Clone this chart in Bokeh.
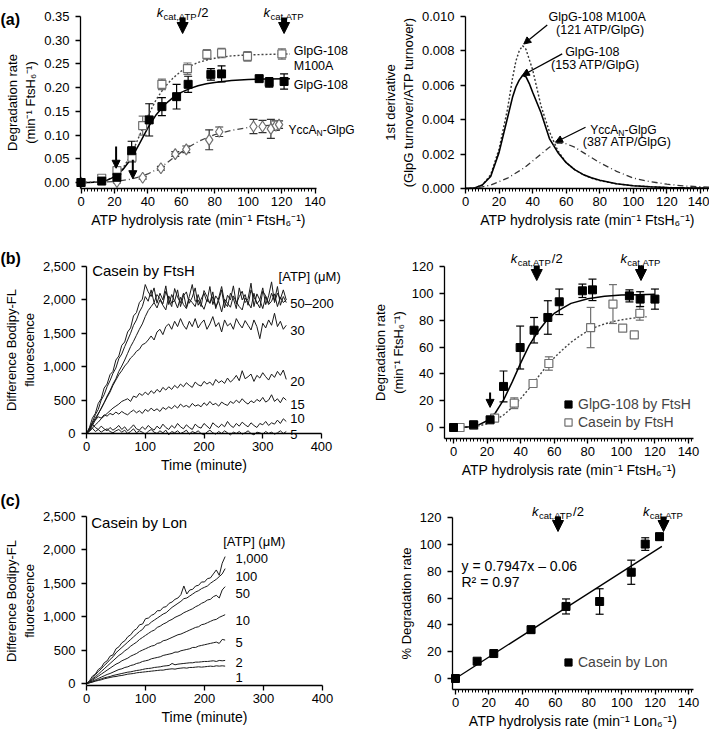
from bokeh.plotting import figure
from bokeh.models import (Range1d, SingleIntervalTicker, NumeralTickFormatter, Label,
                          Arrow, NormalHead, Whisker, TeeHead, ColumnDataSource,
                          Legend, LegendItem)
from bokeh.layouts import row, column
from bokeh.embed import file_html
from bokeh.resources import INLINE

FONT = "Liberation Sans"

# ---------------- data: (a) left, degradation vs ATP hydrolysis ----------------
glpg_x = [0, 12.4, 21.5, 30.3, 40.8, 48.4, 57.2, 64.1, 77.7, 84.1, 106.6, 112.6, 121.5]
glpg_y = [0.000, 0.003, 0.011, 0.067, 0.132, 0.160, 0.181, 0.207, 0.228, 0.229, 0.219, 0.211, 0.213]
glpg_e = [0, 0.003, 0.004, 0.020, 0.034, 0.019, 0.026, 0.017, 0.012, 0.017, 0.006, 0.010, 0.016]
m100a_x = [0, 12.4, 21.5, 30.5, 36.9, 48.4, 63.7, 75.3, 84.1, 99.6, 120.2]
m100a_y = [0.000, 0.009, 0.025, 0.053, 0.120, 0.207, 0.240, 0.270, 0.273, 0.266, 0.271]
m100a_e = [0, 0.006, 0.008, 0.010, 0.020, 0.011, 0.012, 0.010, 0.010, 0.010, 0.011]
ycca_x = [0, 21.5, 36.9, 47.8, 56.4, 63.0, 76.7, 82.7, 103.2, 108.6, 113.6, 116.6, 118.5]
ycca_y = [0.000, 0.001, 0.010, 0.030, 0.060, 0.070, 0.090, 0.107, 0.118, 0.118, 0.113, 0.120, 0.122]
ycca_e = [0, 0.002, 0.003, 0.004, 0.005, 0.007, 0.021, 0.010, 0.015, 0.013, 0.020, 0.010, 0.008]
fit_x = [0, 5, 10, 15, 20, 25, 30, 35, 40, 45, 50, 55, 60, 65, 70, 75, 80, 90, 100, 110, 125]
glpg_fit = [0, 0.0002, 0.0012, 0.004, 0.012, 0.027, 0.050, 0.082, 0.115, 0.143, 0.164, 0.179,
            0.190, 0.198, 0.204, 0.208, 0.211, 0.215, 0.217, 0.218, 0.219]
m100a_fit = [0, 0.0002, 0.001, 0.004, 0.013, 0.030, 0.058, 0.099, 0.140, 0.175, 0.201, 0.220,
             0.235, 0.245, 0.253, 0.258, 0.262, 0.267, 0.269, 0.270, 0.271]
ycca_fit_x = [0, 10, 20, 30, 35, 40, 45, 50, 55, 60, 65, 70, 75, 80, 90, 100, 110, 119]
ycca_fit = [0, 0.0005, 0.002, 0.007, 0.012, 0.018, 0.027, 0.038, 0.051, 0.064, 0.076, 0.086,
            0.094, 0.101, 0.110, 0.116, 0.120, 0.122]
small_arrow_x = [21, 31]
small_arrow_from = [0.076, 0.048]
small_arrow_to = [0.030, 0.008]
kcat_a = [60.8, 121.5]

# ---------------- data: (a) right, first derivative ----------------
deriv_x = [0, 5, 10, 15, 20, 25, 28, 30, 32, 34, 36, 38, 40, 45, 50, 55, 60, 65, 70, 75, 80,
           90, 100, 110, 120, 130, 140, 146]
glpg_d = [0, 0.00002, 0.0002, 0.0007, 0.0021, 0.0041, 0.0053, 0.0059, 0.0063, 0.00657, 0.0065,
          0.0061, 0.0056, 0.0044, 0.0029, 0.0021, 0.0015, 0.0011, 0.00082, 0.00062, 0.00048,
          0.00028, 0.00016, 0.0001, 0.00006, 0.00004, 0.00003, 0.00002]
m100a_d = [0, 0.00002, 0.0002, 0.0008, 0.0023, 0.0046, 0.0064, 0.0074, 0.0080, 0.0083, 0.0081,
           0.0075, 0.0069, 0.0048, 0.0033, 0.0022, 0.0015, 0.0011, 0.0008, 0.0006, 0.00046,
           0.00027, 0.00016, 0.0001, 0.00006, 0.00004, 0.00003, 0.00002]
ycca_d_x = [0, 5, 10, 15, 20, 25, 30, 35, 40, 45, 50, 55, 60, 65, 70, 75, 80, 90, 100, 110,
            120, 130, 140, 146]
ycca_d = [0, 0.00003, 0.0001, 0.0002, 0.0004, 0.0006, 0.0009, 0.0012, 0.0016, 0.0020, 0.0024,
          0.00265, 0.0026, 0.0024, 0.0021, 0.0018, 0.0015, 0.0010, 0.0006, 0.0004, 0.00025,
          0.00015, 0.0001, 0.00007]

# ---------------- data: (b) left, casein by FtsH time courses ----------------
b200 = [0, 90, 230, 300, 450, 520, 680, 740, 880, 930,
        1100, 1160, 1320, 1370, 1520, 1580, 1760, 1810, 1960, 2010,
        2230, 2120, 2050, 2180, 1950, 2100, 2000, 2210, 1930, 2080,
        1980, 2150, 1900, 2060, 2120, 1950, 2040, 2180, 1920, 2010,
        2100, 1970, 2200, 1930, 2060, 1990, 2150, 1880, 2070, 2000,
        2210, 1940, 2050, 2130, 1960, 2020, 2250, 1900, 2090, 2000,
        2180, 1930, 2060, 2270, 1960, 2100, 2010, 2150, 2000]
b100 = [0, 60, 170, 280, 360, 500, 580, 700, 790, 900,
        980, 1120, 1190, 1300, 1400, 1500, 1620, 1700, 1820, 1900,
        2050, 1980, 2150, 1960, 2080, 2020, 1940, 2130, 2000, 1900,
        2170, 2040, 1960, 2100, 1890, 2050, 2230, 1980, 2000, 1900,
        2140, 2050, 1950, 2120, 1870, 2030, 2200, 1960, 1900, 2100,
        2020, 1870, 2180, 2000, 2080, 1920, 2150, 2040, 1960, 1880,
        2130, 2060, 1950, 2100, 1990, 2200, 1920, 2050, 1960]
b50 = [0, 40, 120, 200, 290, 380, 460, 560, 640, 740,
       820, 930, 1010, 1100, 1200, 1300, 1380, 1470, 1560, 1640,
       1750, 1840, 1900, 1960, 1880, 2000, 1920, 1850, 2060, 1950,
       1990, 1880, 2040, 1930, 1870, 2010, 1960, 1900, 2080, 1940,
       1860, 2000, 1950, 2050, 1900, 1980, 1820, 2010, 1950, 1890,
       2060, 1970, 1900, 1850, 2030, 1960, 1880, 2100, 1940, 2000,
       1870, 2050, 1930, 1980, 2090, 1900, 2040, 1960, 2000]
b30 = [0, 60, 150, 230, 300, 370, 460, 540, 620, 720,
       800, 880, 940, 1010, 1060, 1130, 1170, 1230, 1260, 1330,
       1350, 1400, 1460, 1400, 1520, 1560, 1480, 1600, 1640, 1560,
       1680, 1600, 1720, 1620, 1560, 1680, 1600, 1720, 1580, 1650,
       1700, 1560, 1640, 1750, 1600, 1660, 1520, 1700, 1610, 1650,
       1560, 1720, 1640, 1580, 1690, 1620, 1550, 1700, 1600, 1420,
       1650, 1580, 1700, 1620, 1800, 1600, 1680, 1560, 1620]
b20 = [0, 30, 80, 130, 170, 220, 260, 300, 340, 380,
       410, 440, 480, 500, 520, 480, 560, 540, 600, 570,
       620, 580, 640, 600, 660, 620, 690, 650, 700, 660,
       720, 680, 740, 700, 760, 720, 690, 770, 730, 710,
       780, 740, 770, 720, 810, 760, 790, 750, 830, 770,
       810, 870, 790, 940, 820, 850, 890, 780, 870, 830,
       910, 850, 800, 890, 840, 930, 870, 950, 810]
b15 = [0, 80, 160, 200, 250, 230, 280, 260, 300, 280,
       320, 290, 330, 300, 280, 320, 350, 310, 340, 300,
       360, 330, 380, 340, 370, 330, 390, 360, 400, 370,
       420, 380, 440, 400, 420, 390, 450, 410, 430, 400,
       460, 420, 480, 430, 450, 410, 470, 440, 420, 480,
       450, 500, 460, 520, 470, 440, 490, 460, 510, 480,
       540, 470, 500, 580, 480, 520, 460, 540, 500]
b10 = [0, 60, 140, 90, 60, 110, 70, 40, 90, 50,
       80, 120, 60, 100, 40, 80, 130, 70, 50, 100,
       60, 120, 80, 50, 110, 70, 140, 90, 60, 120,
       80, 150, 100, 70, 130, 90, 60, 140, 100, 80,
       150, 110, 70, 160, 120, 90, 140, 100, 180, 120,
       90, 150, 110, 170, 130, 100, 160, 120, 90, 150,
       130, 180, 120, 160, 140, 200, 150, 220, 180]
b5 = [0, 40, 80, 30, 60, 20, 50, 70, 30, 10,
      40, 60, 20, 50, 0, 30, 70, 10, 40, 20,
      -10, 30, 60, 20, 0, 40, 10, 50, -20, 30,
      10, 40, 0, 20, 50, -10, 30, 10, 40, 0,
      -20, 20, 50, 10, -10, 30, 0, 40, 10, -20,
      20, 0, 30, -10, 10, 40, 0, -20, 20, 10,
      -10, 30, 0, 20, -10, 10, 40, 0, 30]
b_traces = [b200, b100, b50, b30, b20, b15, b10, b5]
b_step = 5
b_labels = ["50\u2013200", "30", "20", "15", "10", "5"]
b_label_y = [1949, 1549, 775, 427, 228, -22]

# ---------------- data: (b) right ----------------
glpgF_x = [0, 11.9, 21.8, 29.8, 39.7, 48.0, 56.2, 63.0, 76.8, 82.8, 104.8, 111.2, 120.0]
glpgF_y = [0, 2, 5.7, 30.6, 59.6, 72.5, 82, 93.7, 101.9, 102.6, 98.1, 95.7, 95.7]
glpgF_e = [0, 1, 1.5, 11.5, 16, 9.5, 12.5, 9.5, 5, 8, 4.5, 5.5, 7.5]
casF_x = [3.9, 12.1, 24.5, 36.2, 47.4, 56.8, 81.7, 95.0, 100.8, 107.7, 111.0]
casF_y = [0, 1.7, 7, 18.1, 32.8, 47.7, 74.5, 92, 74, 69, 85]
casF_e = [0, 0.5, 2, 4, 1.5, 5, 15, 14.5, 1.5, 1.5, 5]
glpgF_fit_x = [0, 5, 10, 15, 20, 25, 30, 35, 40, 45, 50, 55, 60, 65, 70, 80, 90, 100, 110, 120]
glpgF_fit = [0, 0.1, 0.5, 2, 5, 11, 21, 34, 48, 61, 71, 79, 85, 89, 92.5, 96, 97.8, 98.7, 99, 99.3]
casF_fit_x = [0, 5, 10, 15, 20, 25, 30, 35, 40, 45, 50, 55, 60, 65, 70, 75, 80, 85, 90, 95,
              100, 105, 110, 115]
casF_fit = [0, 0.1, 0.4, 1.2, 2.8, 5.5, 9.5, 15, 21.5, 29, 37, 45, 52, 58, 63.5, 68, 72, 75,
            77.2, 79, 80.2, 81.2, 82, 82.5]
kcat_b = [49.6, 111.7]
small_arrow_b = (21.8, 26, 15)

# ---------------- data: (c) left, casein by Lon ----------------
c1000 = [0, 40, 110, 140, 210, 240, 310, 340, 410, 430,
         520, 550, 610, 640, 700, 730, 790, 820, 880, 890,
         970, 980, 1020, 1040, 1090, 1090, 1140, 1150, 1200, 1220,
         1260, 1280, 1330, 1460, 1340, 1400, 1410, 1460, 1470, 1520,
         1520, 1570, 1580, 1640, 1700, 1620, 1800, 1900]
c100 = [0, 30, 80, 130, 180, 220, 270, 310, 360, 400,
        460, 500, 540, 580, 620, 660, 700, 740, 780, 810,
        870, 880, 920, 950, 980, 1010, 1040, 1060, 1100, 1140,
        1170, 1200, 1230, 1270, 1280, 1310, 1340, 1370, 1390, 1420,
        1440, 1460, 1500, 1530, 1560, 1600, 1640, 1720]
c50 = [0, 25, 65, 100, 140, 180, 220, 260, 300, 340,
       380, 420, 450, 490, 520, 560, 590, 620, 660, 690,
       720, 750, 780, 800, 840, 860, 890, 910, 940, 960,
       990, 1010, 1030, 1060, 1080, 1100, 1120, 1150, 1170, 1200,
       1220, 1250, 1260, 1300, 1320, 1280, 1400, 1450]
c10 = [0, 20, 50, 80, 110, 140, 170, 200, 230, 260,
       290, 310, 340, 360, 380, 410, 430, 450, 480, 500,
       520, 540, 560, 570, 600, 610, 640, 650, 670, 690,
       710, 730, 740, 760, 780, 800, 820, 840, 850, 880,
       890, 910, 930, 950, 960, 990, 1010, 1030]
c5 = [0, 15, 35, 55, 75, 95, 115, 135, 150, 170,
      190, 210, 220, 240, 250, 270, 280, 300, 310, 330,
      340, 350, 370, 380, 390, 400, 420, 430, 440, 450,
      470, 470, 490, 500, 510, 520, 540, 540, 560, 570,
      580, 590, 600, 610, 620, 600, 660, 650]
c2 = [0, 10, 25, 40, 55, 70, 85, 95, 105, 120,
      130, 140, 150, 160, 170, 175, 185, 195, 200, 210,
      220, 225, 230, 240, 245, 250, 260, 265, 270, 300,
      280, 290, 295, 300, 305, 310, 310, 320, 320, 325,
      330, 330, 335, 340, 330, 345, 340, 345]
c1 = [0, 10, 20, 35, 45, 55, 70, 80, 90, 100,
      105, 115, 120, 130, 140, 145, 150, 160, 165, 170,
      175, 180, 185, 190, 195, 200, 200, 210, 215, 220,
      215, 225, 230, 235, 230, 240, 240, 245, 250, 245,
      250, 255, 260, 255, 265, 260, 265, 260]
c_traces = [c1000, c100, c50, c10, c5, c2, c1]
c_step = 5
c_labels = ["1,000", "100", "50", "10", "5", "2", "1"]
c_label_y = [1864, 1599, 1350, 936, 617, 311, 87]

# ---------------- data: (c) right ----------------
lon_x = [0, 13, 23, 45.4, 66.4, 86.6, 105.6, 114, 122.6]
lon_y = [0, 12.9, 18.6, 36.4, 53.7, 57.4, 79.2, 100.2, 105.7]
lon_e = [0, 1, 1, 2.5, 5.6, 9.5, 9, 4.7, 2.5]
lon_fit_x = [0, 124]
lon_fit_y = [0, 98.5]
kcat_c = [61.6, 125]

ATP_FTSH = "ATP hydrolysis rate (min\u207b\u00b9 FtsH\u2086\u207b\u00b9)"
ATP_LON = "ATP hydrolysis rate (min\u207b\u00b9 Lon\u2086\u207b\u00b9)"
DEG = "Degradation rate\n(min\u207b\u00b9 FtsH\u2086\u207b\u00b9)"
FLUO = "Difference Bodipy-FL\nfluorescence"


class Panel:
    """Figure whose frame fills the whole canvas; axes sit at fixed page positions."""

    def __init__(self, box, yaxis_px, xaxis_py, xm, ym):
        fl, ft, fr, fb = box
        self.box = box
        self.xm, self.ym = xm, ym
        self.x_lo = self.x2d(yaxis_px)
        self.y_lo = self.y2d(xaxis_py)
        p = figure(width=fr - fl, height=fb - ft,
                   x_range=Range1d(self.x2d(fl), self.x2d(fr)),
                   y_range=Range1d(self.y2d(fb), self.y2d(ft)),
                   min_border=0, min_border_left=0, min_border_right=0,
                   min_border_top=0, min_border_bottom=0,
                   output_backend="svg", toolbar_location=None, title=None)
        p.xgrid.visible = False
        p.ygrid.visible = False
        p.outline_line_color = None
        p.background_fill_color = "white"
        p.border_fill_color = "white"
        p.xaxis[0].fixed_location = self.y_lo
        p.yaxis[0].fixed_location = self.x_lo
        for ax in (p.xaxis[0], p.yaxis[0]):
            ax.axis_line_color = "black"
            ax.axis_line_width = 1.3
            ax.major_tick_line_color = "black"
            ax.major_tick_line_width = 1.3
            ax.minor_tick_line_color = "black"
            ax.minor_tick_line_width = 1
            ax.major_tick_in = 0
            ax.major_tick_out = 5
            ax.minor_tick_in = 0
            ax.minor_tick_out = 3
            ax.major_label_text_font = FONT
            ax.major_label_text_font_size = "13px"
            ax.major_label_text_color = "black"
            ax.axis_label_text_font = FONT
            ax.axis_label_text_font_style = "normal"
            ax.axis_label_text_color = "black"
        xa, ya = p.xaxis[0], p.yaxis[0]
        xa.major_label_standoff = 3
        xa.axis_label_standoff = 3
        xa.axis_label_text_font_size = "14px"
        ya.major_label_standoff = 6
        ya.axis_label_standoff = 3
        ya.axis_label_text_font_size = "13px"
        self.p = p

    def x2d(self, px):
        v0, p0, v1, p1 = self.xm
        return v0 + (v1 - v0) * (px - p0) / (p1 - p0)

    def y2d(self, py):
        v0, p0, v1, p1 = self.ym
        return v0 + (v1 - v0) * (py - p0) / (p1 - p0)

    def d2x(self, v):
        v0, p0, v1, p1 = self.xm
        return p0 + (v - v0) * (p1 - p0) / (v1 - v0)

    def d2y(self, v):
        v0, p0, v1, p1 = self.ym
        return p0 + (v - v0) * (p1 - p0) / (v1 - v0)

    def axes(self, xint, xminor, x_hi, yint, y_hi, yfmt, xlabel, ylabel):
        p = self.p
        p.xaxis[0].ticker = SingleIntervalTicker(interval=xint, num_minor_ticks=xminor)
        p.yaxis[0].ticker = SingleIntervalTicker(interval=yint, num_minor_ticks=0)
        p.xaxis[0].bounds = (self.x_lo, x_hi)
        p.yaxis[0].bounds = (self.y_lo, y_hi)
        p.yaxis[0].formatter = NumeralTickFormatter(format=yfmt)
        p.xaxis[0].formatter = NumeralTickFormatter(format="0")
        p.xaxis[0].axis_label = xlabel
        p.yaxis[0].axis_label = ylabel

    def legend_loc(self, left_px, bottom_px):
        fl, ft, fr, fb = self.box
        return (left_px - fl, fb - bottom_px)


def lab(P, x, y, s, size="12.5px", align="left", style="normal"):
    P.p.add_layout(Label(x=x, y=y, text=s, text_font=FONT, text_font_size=size,
                         text_align=align, text_baseline="alphabetic",
                         text_font_style=style, text_color="black"))


def pieces(P, x_page, base_page, parts):
    x = x_page
    for s, size, dy, w, style in parts:
        lab(P, P.x2d(x), P.y2d(base_page + dy), s, size=f"{size}px", style=style)
        x += w


def arrow(P, x0, y0, x1, y1, lw, hs):
    P.p.add_layout(Arrow(x_start=x0, y_start=y0, x_end=x1, y_end=y1, line_color="black",
                         line_width=lw, end=NormalHead(size=hs, fill_color="black",
                                                       line_color="black", line_width=1)))


def errbars(P, xs, ys, es, color):
    xx, lo, hi = [], [], []
    for x, y, e in zip(xs, ys, es):
        if e > 0:
            xx.append(x)
            lo.append(y - e)
            hi.append(y + e)
    src = ColumnDataSource(dict(x=xx, lo=lo, hi=hi))
    P.p.add_layout(Whisker(source=src, base="x", lower="lo", upper="hi", line_color=color,
                           line_width=1.2,
                           upper_head=TeeHead(size=8, line_color=color, line_width=1.2),
                           lower_head=TeeHead(size=8, line_color=color, line_width=1.2)))


def kcat_marks(P, xs, base_page, top_page, tip_page):
    for i, x in enumerate(xs):
        parts = [("k", 13, 0, 6.8, "italic"), ("cat,ATP", 9.5, 3.5, 34.2, "normal")]
        if i == 0:
            parts.append(("/2", 13, 0, 10.8, "normal"))
        total = sum(pp[3] for pp in parts)
        pieces(P, P.d2x(x) - total / 2, base_page, parts)
        arrow(P, x, P.y2d(top_page), x, P.y2d(tip_page), 6, 11)


GRAY = "#707070"
YCCA_PARTS = [("YccA", 12, 0, 28.0, "normal"), ("N", 8.5, 3, 6.2, "normal"),
              ("-GlpG", 12, 0, 32, "normal")]

# ================= (a) left =================
A = Panel((0, 0, 355, 240), 80, 188, (0, 80.5, 140, 314.5), (0, 182, 0.35, 16))
A.axes(20, 10, 141, 0.05, 0.3501, "0.00", ATP_FTSH, DEG)
pa = A.p
pa.line(fit_x, m100a_fit, line_color="#444444", line_width=1.4, line_dash="2 2")
pa.line(fit_x, glpg_fit, line_color="black", line_width=1.5)
pa.line(ycca_fit_x, ycca_fit, line_color="#444444", line_width=1.3, line_dash="6 3 1 3")
errbars(A, m100a_x, m100a_y, m100a_e, GRAY)
errbars(A, ycca_x, ycca_y, ycca_e, "#333333")
errbars(A, glpg_x, glpg_y, glpg_e, "black")
pa.scatter(m100a_x, m100a_y, marker="square", size=8, fill_color="white", line_color=GRAY,
           line_width=1.2)
pa.scatter(ycca_x, ycca_y, marker="diamond", size=11, fill_color="white", line_color=GRAY,
           line_width=1.2)
pa.scatter(glpg_x, glpg_y, marker="square", size=8, fill_color="black", line_color="black")
for x, y0, y1 in zip(small_arrow_x, small_arrow_from, small_arrow_to):
    arrow(A, x, y0, x, y1, 2, 8)
kcat_marks(A, kcat_a, 12, 17, 33)
lab(A, 127.3, 0.277, "GlpG-108")
lab(A, 127.3, 0.245, "M100A")
lab(A, 127.3, 0.2066, "GlpG-108")
pieces(A, 288, A.d2y(0.1117), YCCA_PARTS)
lab(A, A.x2d(0), A.y2d(19), "(a)", size="16px", style="bold")

# ================= (a) right =================
AR = Panel((355, 0, 709, 240), 465, 188, (0, 465, 140, 700), (0, 188, 0.010, 16))
AR.axes(20, 10, 146, 0.002, 0.01001, "0.000", ATP_FTSH,
        "1st derivative\n(GlpG turnover/ATP turnover)")
par = AR.p
par.line(deriv_x, m100a_d, line_color="#333333", line_width=1.4, line_dash="2 2")
par.line(deriv_x, glpg_d, line_color="black", line_width=1.6)
par.line(ycca_d_x, ycca_d, line_color="#333333", line_width=1.3, line_dash="6 3 1 3")
arrow(AR, 48.7, 0.0095, 34.7, 0.0084, 1.3, 7)
arrow(AR, 57.6, 0.00783, 33.8, 0.00657, 1.3, 7)
arrow(AR, 71.5, 0.00356, 53.6, 0.00269, 1.3, 7)
lab(AR, 78.4, 0.00999, "GlpG-108 M100A", align="center")
lab(AR, 80.4, 0.00922, "(121 ATP/GlpG)", align="center")
lab(AR, 75.5, 0.00795, "GlpG-108", align="center")
lab(AR, 77.4, 0.00718, "(153 ATP/GlpG)", align="center")
pieces(AR, AR.d2x(94.1) - 33.1, AR.d2y(0.0034), YCCA_PARTS)
lab(AR, 96.3, 0.00273, "(387 ATP/GlpG)", align="center")

# ================= (b) left =================
Bp = Panel((0, 240, 355, 480), 86, 433, (0, 86, 400, 321), (0, 433, 2500, 266))
Bp.axes(100, 0, 400, 500, 2500.5, "0,0", "Time (minute)", FLUO)
pb = Bp.p
for tr in b_traces:
    pb.line([b_step * i for i in range(len(tr))], tr, line_color="#1a1a1a", line_width=1)
lab(Bp, 9.7, 2440, "Casein by FtsH", size="15px")
lab(Bp, 327, 2347, "[ATP] (\u03bcM)", size="13px")
for s, y in zip(b_labels, b_label_y):
    lab(Bp, 347, y, s, size="13px")
lab(Bp, Bp.x2d(0), Bp.y2d(258), "(b)", size="16px", style="bold")

# ================= (b) right =================
BR = Panel((355, 240, 709, 480), 444, 438, (0, 453, 140, 688), (0, 427, 120, 266))
BR.axes(20, 10, 143, 20, 120.01, "0", ATP_FTSH, DEG)
pbr = BR.p
pbr.line(casF_fit_x, casF_fit, line_color="#444444", line_width=1.4, line_dash="2 2")
pbr.line(glpgF_fit_x, glpgF_fit, line_color="black", line_width=1.5)
errbars(BR, casF_x, casF_y, casF_e, GRAY)
errbars(BR, glpgF_x, glpgF_y, glpgF_e, "black")
r_cas = pbr.scatter(casF_x, casF_y, marker="square", size=8, fill_color="white",
                    line_color=GRAY, line_width=1.2)
r_glp = pbr.scatter(glpgF_x, glpgF_y, marker="square", size=8, fill_color="black",
                    line_color="black")
arrow(BR, small_arrow_b[0], small_arrow_b[1], small_arrow_b[0], small_arrow_b[2], 2, 8)
kcat_marks(BR, kcat_b, 258, 265, 280)
leg_b = Legend(items=[LegendItem(label="GlpG-108 by FtsH", renderers=[r_glp]),
                      LegendItem(label="Casein by FtsH", renderers=[r_cas])],
               location=BR.legend_loc(558, 431), border_line_color=None,
               background_fill_alpha=0, padding=0, margin=0, spacing=0,
               glyph_width=20, glyph_height=18, label_height=18, label_standoff=0,
               label_text_font=FONT, label_text_font_size="14px")
pbr.add_layout(leg_b)

# ================= (c) left =================
C = Panel((0, 480, 355, 734), 86, 685, (0, 86, 400, 322), (0, 683, 2500, 516))
C.axes(100, 0, 400, 500, 2500.5, "0,0", "Time (minute)", FLUO)
pc = C.p
for tr in c_traces:
    pc.line([c_step * i for i in range(len(tr))], tr, line_color="#1a1a1a", line_width=1)
lab(C, 8, 2415, "Casein by Lon", size="15px")
lab(C, 231.7, 2123, "[ATP] (\u03bcM)", size="13px")
for s, y in zip(c_labels, c_label_y):
    lab(C, 252.5, y, s, size="13px")
lab(C, C.x2d(0), C.y2d(500), "(c)", size="16px", style="bold")

# ================= (c) right =================
CR = Panel((355, 480, 709, 734), 452, 689, (0, 455, 140, 688), (0, 678, 120, 517))
CR.axes(20, 10, 143, 20, 120.01, "0", ATP_LON, "% Degradation rate")
pcr = CR.p
pcr.line(lon_fit_x, lon_fit_y, line_color="black", line_width=1.3)
errbars(CR, lon_x, lon_y, lon_e, "black")
r_lon = pcr.scatter(lon_x, lon_y, marker="square", size=8, fill_color="black",
                    line_color="black")
kcat_marks(CR, kcat_c, 511, 516, 531)
lab(CR, 3.6, 83.7, "y = 0.7947x \u2013 0.06", size="14px")
lab(CR, 3.6, 71.8, "R\u00b2 = 0.97", size="14px")
leg_c = Legend(items=[LegendItem(label="Casein by Lon", renderers=[r_lon])],
               location=CR.legend_loc(558, 671), border_line_color=None,
               background_fill_alpha=0, padding=0, margin=0, spacing=0,
               glyph_width=20, glyph_height=18, label_height=18, label_standoff=0,
               label_text_font=FONT, label_text_font_size="14px")
pcr.add_layout(leg_c)

layout = column(row(pa, par), row(pb, pbr), row(pc, pcr))
open("out.html", "w").write(file_html(layout, INLINE, title="ATP-dependent degradation"))
